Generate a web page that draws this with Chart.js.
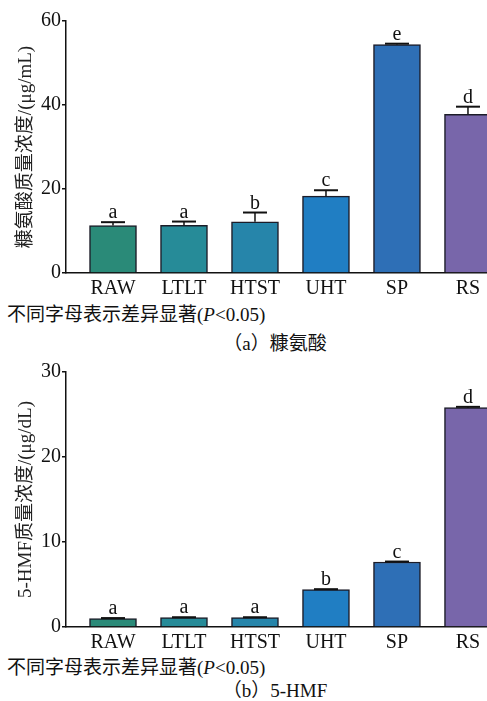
<!DOCTYPE html>
<html>
<head>
<meta charset="utf-8">
<script src="https://cdn.jsdelivr.net/npm/chart.js@4/dist/chart.umd.min.js"></script>
<style>
  html, body { margin: 0; padding: 0; background: #fff; overflow: hidden; }
  body { width: 487px; height: 701px; position: relative; font-family: 'Liberation Serif', 'Noto Sans CJK SC', serif; color: #111; }
  .wrap { position: absolute; left: 0; width: 487px; }
  .note { position: absolute; left: 7px; font-size: 19px; line-height: 22px; white-space: nowrap; }
  .cap { position: absolute; left: 0; width: 550px; text-align: center; font-size: 19px; line-height: 22px; white-space: nowrap; }
</style>
</head>
<body>
<div class="wrap" style="top:0;height:300px"><canvas id="chartA"></canvas></div>
<div class="note" style="top:304px">不同字母表示差异显著(<i>P</i>&lt;0.05)</div>
<div class="cap" style="top:333px">（a）糠氨酸</div>
<div class="wrap" style="top:350px;height:304px"><canvas id="chartB"></canvas></div>
<div class="note" style="top:657px">不同字母表示差异显著(<i>P</i>&lt;0.05)</div>
<div class="cap" style="top:680px">（b）5-HMF</div>
<script>
// Treatments
const categories = ['RAW', 'LTLT', 'HTST', 'UHT', 'SP', 'RS'];
const barColors = ['#2a8a78', '#268b98', '#2685aa', '#207ec3', '#2e6fb6', '#7866aa'];

// Furosine (μg/mL): means, standard errors, significance letters
const furosine = [11.3, 11.35, 12.2, 18.3, 54.4, 37.8];
const furosineErr = [0.8, 0.9, 2.2, 1.4, 0.2, 1.8];
const furosineLetters = ['a', 'a', 'b', 'c', 'e', 'd'];
const furosineTicks = [0, 20, 40, 60];

// 5-HMF (μg/dL)
const hmf = [1.0, 1.1, 1.1, 4.4, 7.65, 25.8];
const hmfErr = [0.05, 0.05, 0.05, 0.05, 0.05, 0.1];
const hmfLetters = ['a', 'a', 'a', 'b', 'c', 'd'];
const hmfTicks = [0, 10, 20, 30];

const FONT = "'Liberation Serif', 'Noto Sans CJK SC', serif";
Chart.defaults.font.family = FONT;
Chart.defaults.color = '#111';

// Error bars with caps and significance letters above each bar
const errorBarPlugin = {
  id: 'errorBars',
  afterDatasetsDraw(chart, args, opts) {
    const { ctx, scales: { x, y } } = chart;
    const values = opts.values, errs = opts.errors, letters = opts.letters;
    ctx.save();
    ctx.strokeStyle = '#111';
    ctx.fillStyle = '#111';
    ctx.font = '20px ' + FONT;
    ctx.textAlign = 'center';
    ctx.textBaseline = 'alphabetic';
    values.forEach((v, i) => {
      const cx = x.getPixelForValue(i);
      const yTop = y.getPixelForValue(v);
      const yErr = y.getPixelForValue(v + errs[i]);
      ctx.lineWidth = 1.5;
      ctx.beginPath();
      ctx.moveTo(cx, yTop);
      ctx.lineTo(cx, yErr);
      ctx.stroke();
      ctx.lineWidth = 2;
      ctx.beginPath();
      ctx.moveTo(cx - 12, yErr);
      ctx.lineTo(cx + 12, yErr);
      ctx.stroke();
      ctx.fillText(letters[i], cx, yErr - 4);
    });
    ctx.restore();
  }
};

function makeChart(id, values, errs, letters, ticks, title) {
  const yMax = ticks[ticks.length - 1];
  return new Chart(document.getElementById(id), {
    type: 'bar',
    data: {
      datasets: [{
        data: values.map((v, i) => ({ x: i, y: v })),
        backgroundColor: barColors,
        borderColor: '#1c1c28',
        borderWidth: 1.5,
        borderSkipped: 'bottom',
        barThickness: 47
      }]
    },
    options: {
      responsive: true,
      maintainAspectRatio: false,
      animation: false,
      layout: { padding: { top: id === 'chartA' ? 21 : 22, left: 0, right: 0, bottom: 0 } },
      plugins: {
        legend: { display: false },
        tooltip: { enabled: false },
        errorBars: { values: values, errors: errs, letters: letters }
      },
      scales: {
        x: {
          type: 'linear',
          offset: false,
          min: -0.662,
          max: 5.268,
          afterBuildTicks: (s) => { s.ticks = categories.map((c, i) => ({ value: i })); },
          grid: { display: false, drawTicks: false, tickLength: 0 },
          border: { display: true, color: '#111', width: 1.5 },
          ticks: {
            autoSkip: false,
            maxRotation: 0,
            padding: 4,
            font: { size: 20 },
            callback: (v) => categories[Math.round(v)]
          },
          afterFit: (s) => { s.height = 27; }
        },
        y: {
          min: 0,
          max: yMax,
          afterBuildTicks: (s) => { s.ticks = ticks.map(t => ({ value: t })); },
          grid: { display: true, drawOnChartArea: false, drawTicks: true, tickLength: 4, color: '#111', lineWidth: 1.5 },
          border: { display: true, color: '#111', width: 1.5 },
          ticks: { padding: 1, font: { size: 20 } },
          title: { display: true, text: title, font: { size: 19 }, padding: { top: 15, bottom: 0 }, color: '#222' },
          afterFit: (s) => { s.width = 66; }
        }
      }
    },
    plugins: [errorBarPlugin]
  });
}

makeChart('chartA', furosine, furosineErr, furosineLetters, furosineTicks, '糠氨酸质量浓度/(μg/mL)');
makeChart('chartB', hmf, hmfErr, hmfLetters, hmfTicks, '5-HMF质量浓度/(μg/dL)');
</script>
</body>
</html>
